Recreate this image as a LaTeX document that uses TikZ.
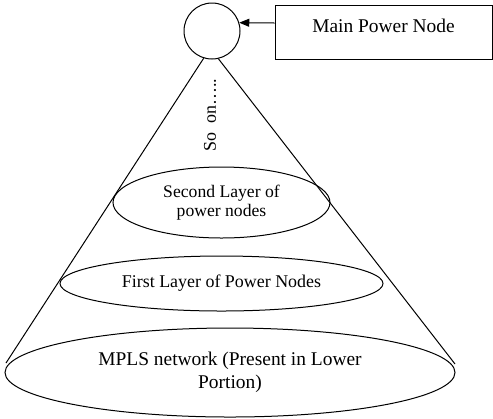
\documentclass[tikz,border=0pt]{standalone}
\usepackage{fontspec}
\setmainfont{Liberation Serif}
\usetikzlibrary{shapes.geometric,arrows.meta}
\begin{document}
\begin{tikzpicture}[x=1bp,y=-1bp,line width=1bp,
  lay/.style={draw,ellipse,inner sep=0pt,align=center},
  bigtext/.style={font=\fontsize{19.5}{23}\selectfont},
  smalltext/.style={font=\fontsize{17.7}{19}\selectfont},
  tip/.style={-{Triangle[length=10bp,width=8bp]}}]
\useasboundingbox (0,0) rectangle (493,418);
\node[draw,circle,minimum size=56bp,inner sep=0pt] (top) at (212,31) {};
\node[draw,minimum width=217bp,minimum height=54bp,inner sep=0pt,
      text height=14bp,text depth=13bp,bigtext] (box) at (383.5,32) {Main Power Node};
\draw[tip] ([yshift=9bp]box.west) -- (top.17);
\coordinate (bl) at (6,363);
\coordinate (br) at (455,364);
\draw (top.253) -- (bl);
\draw (top.283) -- (br);
\node[rotate=90,font=\fontsize{18}{20}\selectfont] (soon) at (210,115) {So~ on…..};
\node[lay,minimum width=217bp,minimum height=71bp,smalltext] (l2) at (221.5,202.5) {Second Layer of\\power nodes};
\node[lay,minimum width=323bp,minimum height=55bp,font=\fontsize{18}{20}\selectfont] (l1) at (221.5,283.5) {First Layer of Power Nodes};
\node[lay,minimum width=450bp,minimum height=89bp,bigtext] (mpls) at (230,372.5) {MPLS network (Present in Lower\\Portion)};
\end{tikzpicture}
\end{document}
